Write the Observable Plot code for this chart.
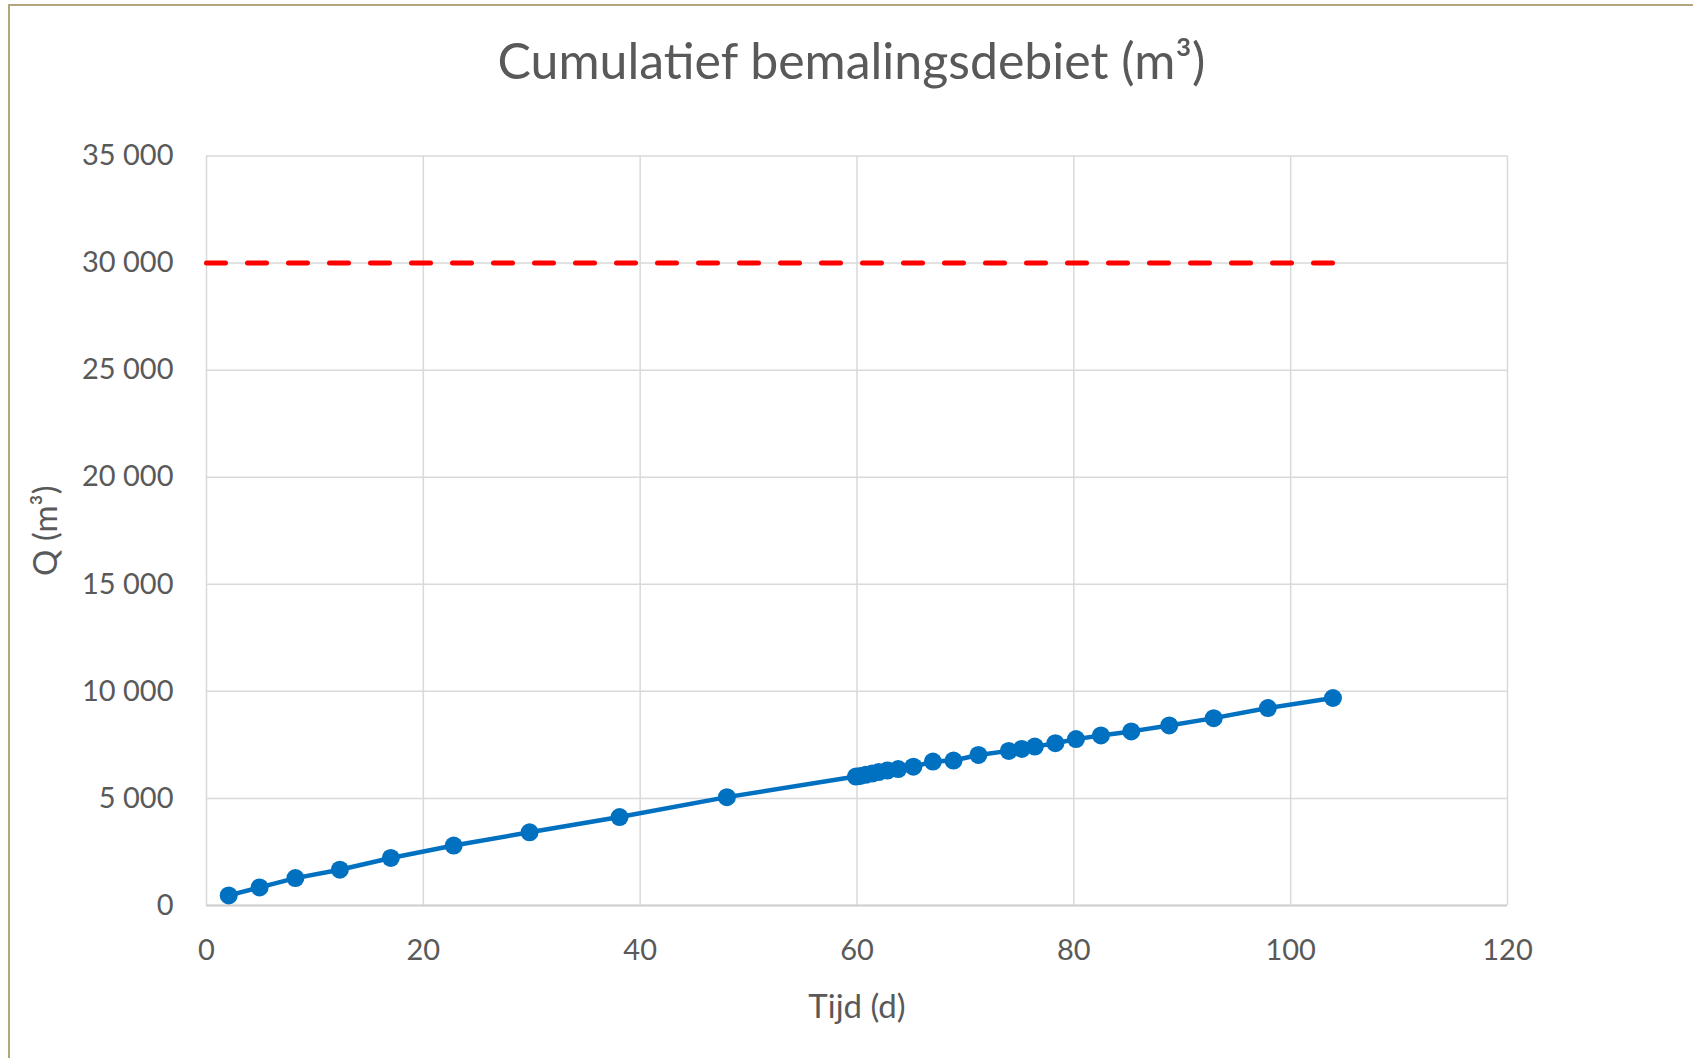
<!DOCTYPE html>
<html>
<head>
<meta charset="utf-8">
<script src="https://cdn.jsdelivr.net/npm/d3@7"></script>
<script src="https://cdn.jsdelivr.net/npm/@observablehq/plot@0.6"></script>
<style>
  html, body { margin: 0; padding: 0; background: #fff; }
  body { width: 1693px; height: 1058px; position: relative; overflow: hidden; font-family: Lato, "Open Sans", sans-serif; }
  #frame { position: absolute; left: 8px; top: 4px; width: 1800px; height: 1200px; border-top: 2px solid #b3a67c; border-left: 2px solid #b3a67c; pointer-events: none; }
  #title { height: 120px; line-height: 120px; text-align: center; font-size: 50px; color: #595959; padding-left: 10px; }
</style>
</head>
<body>
<div id="frame"></div>
<div id="title">Cumulatief bemalingsdebiet (m³)</div>
<div id="chart"></div>
<script>
// Data
const tijd = [2.05, 4.9, 8.2, 12.3, 17.0, 22.8, 29.8, 38.1, 48.0, 59.9, 60.3, 60.8, 61.4, 62.0, 62.8, 63.8, 65.2, 67.0, 68.9, 71.2, 74.0, 75.2, 76.4, 78.3, 80.2, 82.5, 85.3, 88.8, 92.9, 97.9, 103.9];
const debiet = [470, 845, 1280, 1670, 2220, 2800, 3420, 4130, 5060, 6020, 6050, 6100, 6160, 6230, 6300, 6370, 6480, 6720, 6770, 7030, 7220, 7310, 7420, 7580, 7770, 7940, 8130, 8410, 8750, 9220, 9690];
const limietTijd = [0, 104];
const limietWaarde = [30000, 30000];
const xTicks = [0, 20, 40, 60, 80, 100, 120];
const yTicks = [0, 5000, 10000, 15000, 20000, 25000, 30000, 35000];
const xLabel = "Tijd (d)";
const yLabel = "Q (m³)";

const series = tijd.map((t, i) => ({t, q: debiet[i]}));
const limiet = limietTijd.map((t, i) => ({t, q: limietWaarde[i]}));

const fmt = d3.formatLocale({decimal: ",", thousands: " ", grouping: [3], currency: ["", ""]}).format(",d");

const chart = Plot.plot({
  width: 1693,
  height: 938,
  marginLeft: 206,
  marginRight: 186,
  marginTop: 35.5,
  marginBottom: 153,
  style: {fontFamily: "Lato, 'Open Sans', sans-serif", background: "transparent"},
  x: {domain: [0, 120]},
  y: {domain: [0, 35000]},
  marks: [
    Plot.gridX(xTicks, {stroke: "#d9d9d9", strokeOpacity: 1, strokeWidth: 1.5}),
    Plot.gridY(yTicks, {stroke: "#d9d9d9", strokeOpacity: 1, strokeWidth: 1.5}),
    Plot.ruleY([0], {stroke: "#cfcfcf", strokeWidth: 2}),
    Plot.axisX(xTicks, {tickSize: 0, tickPadding: 34, fontSize: 29, fill: "#595959", label: null}),
    Plot.axisY(yTicks, {tickSize: 0, tickPadding: 33, fontSize: 29, fill: "#595959", tickFormat: fmt, label: null}),
    Plot.text([xLabel], {frameAnchor: "bottom", dy: 112, fontSize: 33, fill: "#595959"}),
    Plot.text([yLabel], {frameAnchor: "left", textAnchor: "middle", dx: -160, rotate: -90, fontSize: 33, fill: "#595959"}),
    Plot.line(limiet, {x: "t", y: "q", stroke: "#ff0000", strokeWidth: 5, strokeDasharray: "19,22", strokeLinecap: "round"}),
    Plot.line(series, {x: "t", y: "q", stroke: "#0070c0", strokeWidth: 4.5}),
    Plot.dot(series, {x: "t", y: "q", r: 9, fill: "#0070c0", stroke: "none"})
  ]
});
document.getElementById("chart").appendChild(chart);
</script>
</body>
</html>
